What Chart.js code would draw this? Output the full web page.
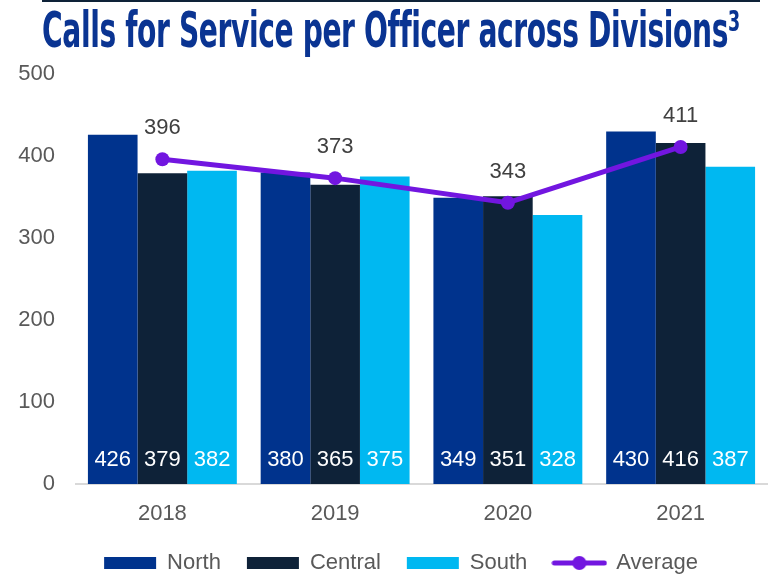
<!DOCTYPE html>
<html>
<head>
<meta charset="utf-8">
<script src="https://cdn.jsdelivr.net/npm/chart.js@4/dist/chart.umd.min.js"></script>
<style>
  html, body { margin: 0; padding: 0; background: #fff; }
  #wrap { position: relative; width: 774px; height: 577px; overflow: hidden; }
  #topline { position: absolute; left: 42px; top: 0; width: 718px; height: 2px; background: #0e2238; z-index: 2; }
  #title {
    position: absolute; left: 42px; top: 5px; white-space: nowrap; line-height: 1;
    font-family: "Liberation Sans Narrow", "DejaVu Sans Condensed", "Liberation Sans", sans-serif;
    font-weight: bold; font-size: 40px; color: #0a3492; transform-origin: 0 0; letter-spacing: -0.5px;
    z-index: 2;
  }
  canvas { position: absolute; left: 0; top: 0; }
</style>
</head>
<body>
<div id="wrap">
  <canvas id="chart" width="774" height="584"></canvas>
  <div id="topline"></div>
  <div id="title">Calls for Service per Officer across Divisions³</div>
</div>
<script>
const years = ["2018", "2019", "2020", "2021"];
const north = [426, 380, 349, 430];
const central = [379, 365, 351, 416];
const south = [382, 375, 328, 387];
const average = [396, 373, 343, 411];
const yTicks = [0, 100, 200, 300, 400, 500];

// squeeze the title to the reference width
const title = document.getElementById("title");
const tw = title.getBoundingClientRect().width;
title.style.transform = "scale(" + (698 / tw) + ", 1.23)";

const FONT = "'Liberation Sans', Arial, sans-serif";

// little line+dot swatch for the Average legend entry
const avgSwatch = document.createElement("canvas");
avgSwatch.width = 56; avgSwatch.height = 16;
(function () {
  const c = avgSwatch.getContext("2d");
  c.strokeStyle = "#7216e0"; c.lineWidth = 5; c.lineCap = "round";
  c.beginPath(); c.moveTo(3, 8); c.lineTo(53, 8); c.stroke();
  c.fillStyle = "#7216e0"; c.beginPath(); c.arc(28, 8, 7, 0, Math.PI * 2); c.fill();
})();

const valueLabels = {
  id: "valueLabels",
  afterLayout(chart) {
    // nudge the legend right like in the original
    chart.legend.left += 15;
    chart.legend.right += 15;
  },
  afterDatasetsDraw(chart) {
    const ctx = chart.ctx;
    ctx.save();
    ctx.font = "22px " + FONT;
    ctx.textAlign = "center";
    ctx.textBaseline = "middle";
    chart.data.datasets.forEach((ds, i) => {
      const meta = chart.getDatasetMeta(i);
      meta.data.forEach((el, j) => {
        if (ds.type === "line") {
          ctx.fillStyle = "#404040";
          ctx.fillText(ds.data[j], el.x, el.y - 31);
        } else {
          ctx.fillStyle = "#ffffff";
          ctx.fillText(ds.data[j], el.x, chart.scales.y.getPixelForValue(0) - 24);
        }
      });
    });
    ctx.restore();
  }
};

new Chart(document.getElementById("chart"), {
  data: {
    labels: years,
    datasets: [
      { type: "bar", label: "North", data: north, backgroundColor: "#00338d", order: 2 },
      { type: "bar", label: "Central", data: central, backgroundColor: "#0e2238", order: 2 },
      { type: "bar", label: "South", data: south, backgroundColor: "#00b8f1", order: 2 },
      {
        type: "line", label: "Average", data: average, order: 1,
        borderColor: "#7216e0", backgroundColor: "#7216e0", borderWidth: 5,
        pointRadius: 7, pointHoverRadius: 7, pointBackgroundColor: "#7216e0", pointBorderWidth: 0
      }
    ]
  },
  options: {
    responsive: false,
    animation: false,
    layout: { padding: { top: 74, right: 2, left: 0, bottom: 0 } },
    datasets: { bar: { barPercentage: 1, categoryPercentage: 0.862, borderWidth: 0 } },
    plugins: {
      title: { display: false },
      tooltip: { enabled: false },
      legend: {
        position: "bottom",
        labels: {
          usePointStyle: true,
          pointStyleWidth: 52,
          boxHeight: 12,
          padding: 26,
          color: "#595959",
          font: { family: FONT, size: 22 },
          generateLabels(chart) {
            const items = Chart.defaults.plugins.legend.labels.generateLabels(chart);
            items.sort((a, b) => a.datasetIndex - b.datasetIndex);
            return items.map(it => {
              if (it.text === "Average") {
                it.pointStyle = avgSwatch;
              } else {
                it.pointStyle = "rect";
                it.lineWidth = 0;
              }
              return it;
            });
          }
        }
      }
    },
    scales: {
      x: {
        afterFit(scale) { scale.height = 42; },
        grid: { display: false, drawTicks: false },
        border: { color: "#d9d9d9", width: 2 },
        ticks: { color: "#595959", font: { family: FONT, size: 22 }, padding: 17 }
      },
      y: {
        min: 0, max: 500,
        afterFit(scale) { scale.width = 76; },
        afterBuildTicks(scale) { scale.ticks = yTicks.map(v => ({ value: v })); },
        grid: { display: false, drawTicks: false },
        border: { display: false },
        ticks: { color: "#595959", font: { family: FONT, size: 22 }, padding: 21 }
      }
    }
  },
  plugins: [valueLabels]
});
</script>
</body>
</html>
